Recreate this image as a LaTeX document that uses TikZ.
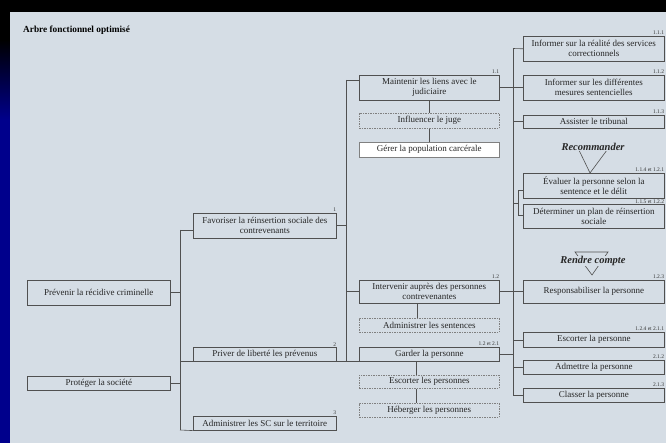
\documentclass[tikz,border=0pt]{standalone}
\usepackage{fontspec}
\setmainfont{Liberation Serif}
\usetikzlibrary{calc}
\definecolor{panel}{RGB}{213,221,229}
\definecolor{navyband}{RGB}{0,0,140}
\definecolor{edge}{RGB}{80,80,80}
\begin{document}
\begin{tikzpicture}[x=1pt,y=-1pt,
  nbox/.style={draw=edge, line width=0.6pt, inner sep=0pt, align=center, anchor=north west,
    font=\fontsize{9}{10}\selectfont, text=black!85},
  dbox/.style={nbox, draw=gray, dash pattern=on 1.5pt off 1pt},
  wbox/.style={nbox, draw=gray, fill=white},
  num/.style={inner sep=0.3pt, anchor=south east, font=\fontsize{5.5}{6}\selectfont, text=black!80},
  conn/.style={draw=edge, line width=0.6pt},
  tag/.style={inner sep=0.5pt, fill=panel, font=\bfseries\itshape\fontsize{10.5}{12}\selectfont, text=black!85}
]
\useasboundingbox (0,0) rectangle (666,443);
% background
\fill[black] (0,0) rectangle (666,443);
\shade[top color=black, bottom color=navyband] (0,40) rectangle (10,120);
\fill[navyband] (0,120) rectangle (10,443);
\fill[panel] (10,12) rectangle (666,443);

\node[anchor=west, inner sep=0pt, font=\bfseries\fontsize{9.3}{11}\selectfont] (title) at (23,30) {Arbre fonctionnel optimisé};

% left column
\node[nbox, minimum width=143, minimum height=25] (prev) at (27,280) {Prévenir la récidive criminelle};
\node[nbox, minimum width=143, minimum height=14] (prot) at (27,376) {Protéger la société};

% level 1
\node[nbox, minimum width=143, minimum height=25] (fav) at (193,213) {Favoriser la réinsertion sociale des\\contrevenants};
\node[num] at ([yshift=0.5pt]fav.north east) {1};
\node[nbox, minimum width=143, minimum height=14] (priv) at (193,347) {Priver de liberté les prévenus};
\node[num] at ([yshift=0.5pt]priv.north east) {2};
\node[nbox, minimum width=143, minimum height=14] (adm3) at (193,416) {Administrer les SC sur le territoire};
\node[num] at ([yshift=0.5pt]adm3.north east) {3};

% middle column
\node[nbox, minimum width=140, minimum height=25] (maint) at (359,75) {Maintenir les liens avec le\\judiciaire};
\node[num] at ([yshift=0.5pt]maint.north east) {1.1};
\node[dbox, minimum width=140, minimum height=15] (infl) at (359,113) {Influencer le juge};
\node[wbox, minimum width=140, minimum height=15] (gerer) at (359,142) {Gérer la population carcérale};
\node[nbox, minimum width=140, minimum height=23] (interv) at (359,280) {Intervenir auprès des personnes\\contrevenantes};
\node[num] at ([yshift=0.5pt]interv.north east) {1.2};
\node[dbox, minimum width=140, minimum height=14] (admsent) at (359,318) {Administrer les sentences};
\node[nbox, minimum width=140, minimum height=14] (garder) at (359,347) {Garder la personne};
\node[num] at ([yshift=0.5pt]garder.north east) {1.2 et 2.1};
\node[dbox, minimum width=140, minimum height=13] (escp) at (359,375) {Escorter les personnes};
\node[dbox, minimum width=140, minimum height=14] (heb) at (359,403) {Héberger les personnes};

% right column
\node[nbox, minimum width=141, minimum height=25] (r111) at (523,36) {Informer sur la réalité des services\\correctionnels};
\node[num] at ([yshift=0.5pt]r111.north east) {1.1.1};
\node[nbox, minimum width=141, minimum height=25] (r112) at (523,75) {Informer sur les différentes\\mesures sentencielles};
\node[num] at ([yshift=0.5pt]r112.north east) {1.1.2};
\node[nbox, minimum width=141, minimum height=13] (r113) at (523,115) {Assister le tribunal};
\node[num] at ([yshift=0.5pt]r113.north east) {1.1.3};
\node[nbox, minimum width=141, minimum height=25] (eval) at (523,173) {Évaluer la personne selon la\\sentence et le délit};
\node[num] at ([yshift=0.5pt]eval.north east) {1.1.4 et 1.2.1};
\node[nbox, minimum width=141, minimum height=24] (det) at (523,204) {Déterminer un plan de réinsertion\\sociale};
\node[num] at ([yshift=0.3pt]det.north east) {1.1.5 et 1.2.2};
\node[nbox, minimum width=141, minimum height=23] (resp) at (523,280) {Responsabiliser la personne};
\node[num] at ([yshift=0.5pt]resp.north east) {1.2.3};
\node[nbox, minimum width=141, minimum height=15] (esc1) at (523,332) {Escorter la personne};
\node[num] at ([yshift=0.5pt]esc1.north east) {1.2.4 et 2.1.1};
\node[nbox, minimum width=141, minimum height=14] (admp) at (523,360) {Admettre la personne};
\node[num] at ([yshift=0.5pt]admp.north east) {2.1.2};
\node[nbox, minimum width=141, minimum height=14] (classer) at (523,388) {Classer la personne};
\node[num] at ([yshift=0.5pt]classer.north east) {2.1.3};

% bar 1
\coordinate (b1t) at (180,230);
\coordinate (b1b) at (180,430);
\draw[conn] (b1t) -- (b1b);
\draw[conn] (prev.east) -- (prev.east -| b1t);
\draw[conn] (prot.east) -- (prot.east -| b1t);
\draw[conn] (b1t) -- (b1t -| fav.west);
\draw[conn] (priv.south -| b1t) -- (garder.south west);
\draw[conn] (b1b) -- (adm3.south west);

% bar 2
\coordinate (b2t) at (346,80);
\coordinate (b2b) at (346,361);
\draw[conn] (b2t) -- (b2b);
\draw[conn] (fav.east) -- (fav.east -| b2t);
\draw[conn] (b2t) -- (b2t -| maint.west);
\draw[conn] (interv.west -| b2t) -- (interv.west);
\draw[conn] (maint.south) -- (infl.north);
\draw[conn] (infl.south) -- (gerer.north);
\draw[conn] ([xshift=-12pt]interv.south) -- ([xshift=-12pt]admsent.north);
\draw[conn] ([xshift=-13pt]garder.south) -- ([xshift=-13pt]escp.north);
\draw[conn] ([xshift=-13pt]escp.south) -- ([xshift=-13pt]heb.north);

% bar 3
\coordinate (b3t) at (513,48.5);
\coordinate (b3b) at (513,395);
\draw[conn] (b3t) -- (b3b);
\draw[conn] (b3t) -- (r111.west);
\draw[conn] (maint.east) -- (r112.west);
\draw[conn] (r113.west -| b3t) -- (r113.west);
\coordinate (sb1) at (518,190);
\coordinate (sb2) at (518,215);
\coordinate (sbm) at (513,203);
\draw[conn] (sbm) -- (sbm -| sb1);
\draw[conn] (eval.west |- sb1) -- (sb1) -- (sb2) -- (det.west |- sb2);
\draw[conn] (interv.east) -- (resp.west);
\draw[conn] (esc1.west -| b3t) -- (esc1.west);
\draw[conn] (garder.east) -- (garder.east -| b3t);
\draw[conn] (admp.west -| b3t) -- (admp.west);
\draw[conn] (classer.west -| b3t) -- (classer.west);

% callout triangles
\coordinate (t1a) at (577,146);
\coordinate (t1b) at (610,146);
\coordinate (t1v) at (590,173);
\draw[conn] (t1a) -- (t1v) -- (t1b) -- cycle;
\node[tag] (rec) at (593,147) {Recommander};
\coordinate (t2a) at (575,252);
\coordinate (t2b) at (608,252);
\coordinate (t2v) at (592,275);
\draw[conn] (t2a) -- (t2v) -- (t2b) -- cycle;
\node[tag] (rc) at (593,261) {Rendre compte};
\end{tikzpicture}
\end{document}
